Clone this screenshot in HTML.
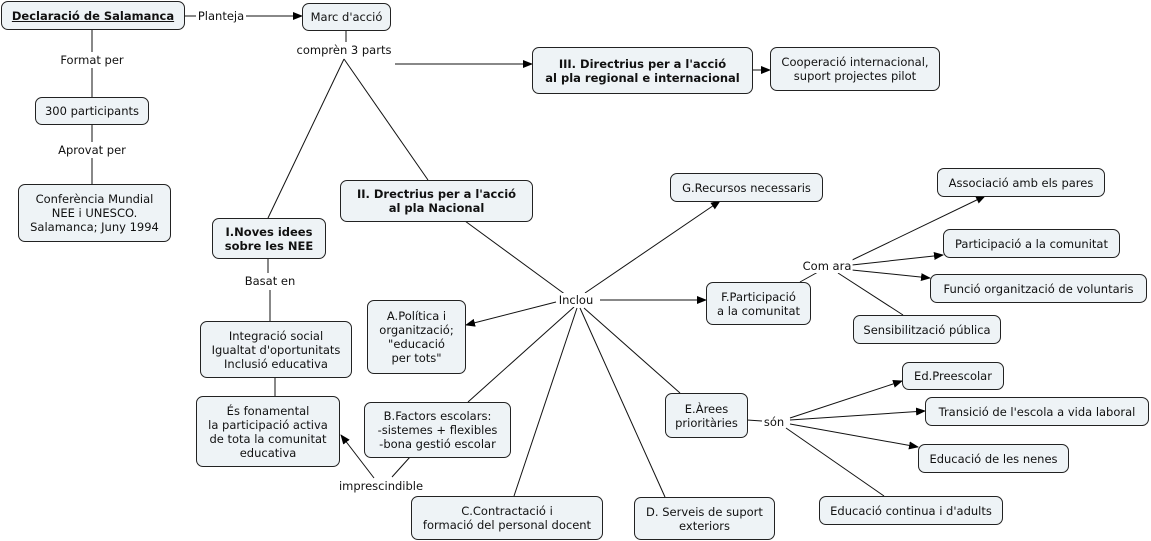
<!DOCTYPE html>
<html><head><meta charset="utf-8"><style>
body{margin:0;width:1151px;height:541px;background:#fff;position:relative;overflow:hidden;font-family:"DejaVu Sans","Liberation Sans",sans-serif;font-size:11.5px;color:#111}
.n{position:absolute;box-sizing:border-box;border:1px solid #222;border-radius:7px;background:#eef3f6;display:flex;align-items:center;justify-content:center;text-align:center;line-height:14px;white-space:nowrap}
.b{font-weight:bold}
.l{position:absolute;background:#fff;white-space:nowrap;line-height:14px;transform:translate(-50%,-50%);padding:0 1px}
svg{position:absolute;left:0;top:0}
</style></head><body>
<svg width="1151" height="541">
<defs><marker id="a" markerWidth="10" markerHeight="8" refX="9" refY="4" orient="auto" markerUnits="userSpaceOnUse"><path d="M0,0 L10,4 L0,8z" fill="#000"/></marker></defs>
<g stroke="#111" stroke-width="1" fill="none">
<line x1="184" y1="16" x2="196" y2="16"/>
<line x1="246" y1="16" x2="302" y2="16" marker-end="url(#a)"/>
<line x1="92" y1="30" x2="92" y2="52"/><line x1="92" y1="68" x2="92" y2="97"/>
<line x1="92" y1="124" x2="92" y2="142"/><line x1="92" y1="158" x2="92" y2="184"/>
<line x1="346" y1="30" x2="346" y2="42"/>
<line x1="344" y1="59" x2="268" y2="218"/>
<line x1="344" y1="59" x2="428" y2="180"/>
<line x1="395" y1="64" x2="532" y2="64" marker-end="url(#a)"/>
<line x1="752" y1="70" x2="770" y2="70" marker-end="url(#a)"/>
<line x1="465" y1="221" x2="566" y2="295"/>
<line x1="585" y1="293" x2="720" y2="201" marker-end="url(#a)"/>
<line x1="600" y1="300" x2="706" y2="300" marker-end="url(#a)"/>
<line x1="556" y1="302" x2="466" y2="325" marker-end="url(#a)"/>
<line x1="574" y1="307" x2="468" y2="402"/>
<line x1="577" y1="308" x2="514" y2="496"/>
<line x1="580" y1="308" x2="665" y2="497"/>
<line x1="584" y1="308" x2="680" y2="393"/>
<line x1="800" y1="282" x2="818" y2="272"/>
<line x1="848" y1="262" x2="985" y2="196" marker-end="url(#a)"/>
<line x1="852" y1="265" x2="943" y2="255" marker-end="url(#a)"/>
<line x1="852" y1="270" x2="930" y2="278" marker-end="url(#a)"/>
<line x1="838" y1="273" x2="903" y2="315"/>
<line x1="747" y1="420" x2="762" y2="421"/>
<line x1="790" y1="418" x2="902" y2="381" marker-end="url(#a)"/>
<line x1="790" y1="420" x2="925" y2="411" marker-end="url(#a)"/>
<line x1="790" y1="424" x2="918" y2="447" marker-end="url(#a)"/>
<line x1="786" y1="428" x2="884" y2="496"/>
<line x1="268" y1="258" x2="268" y2="273"/><line x1="270" y1="290" x2="270" y2="321"/>
<line x1="275" y1="377" x2="275" y2="396"/>
<line x1="410" y1="457" x2="392" y2="477"/>
<line x1="374" y1="478" x2="341" y2="435" marker-end="url(#a)"/>
</g></svg>
<div class="l" style="left:221px;top:16px">Planteja</div>
<div class="l" style="left:92px;top:60px">Format per</div>
<div class="l" style="left:92px;top:150px">Aprovat per</div>
<div class="l" style="left:344px;top:50px">comprèn 3 parts</div>
<div class="l" style="left:270px;top:281px">Basat en</div>
<div class="l" style="left:576px;top:300px">Inclou</div>
<div class="l" style="left:827px;top:266px">Com ara</div>
<div class="l" style="left:774px;top:422px">són</div>
<div class="l" style="left:381px;top:486px">imprescindible</div>

<div class="n b" style="left:1px;top:1px;width:184px;height:29px;text-decoration:underline">Declaració de Salamanca</div>
<div class="n" style="left:302px;top:3px;width:89px;height:28px">Marc d'acció</div>
<div class="n" style="left:35px;top:97px;width:114px;height:28px">300 participants</div>
<div class="n" style="left:18px;top:184px;width:153px;height:58px">Conferència Mundial<br>NEE i UNESCO.<br>Salamanca; Juny 1994</div>
<div class="n b" style="left:532px;top:47px;width:221px;height:47px">III. Directrius per a l'acció<br>al pla regional e internacional</div>
<div class="n" style="left:770px;top:47px;width:170px;height:44px">Cooperació internacional,<br>suport projectes pilot</div>
<div class="n b" style="left:340px;top:180px;width:193px;height:42px">II. Drectrius per a l'acció<br>al pla Nacional</div>
<div class="n b" style="left:212px;top:218px;width:114px;height:41px">I.Noves idees<br>sobre les NEE</div>
<div class="n" style="left:670px;top:173px;width:153px;height:29px">G.Recursos necessaris</div>
<div class="n" style="left:937px;top:168px;width:168px;height:29px">Associació amb els pares</div>
<div class="n" style="left:943px;top:229px;width:177px;height:29px">Participació a la comunitat</div>
<div class="n" style="left:930px;top:274px;width:217px;height:29px">Funció organització de voluntaris</div>
<div class="n" style="left:853px;top:315px;width:148px;height:29px">Sensibilització pública</div>
<div class="n" style="left:706px;top:282px;width:105px;height:43px">F.Participació<br>a la comunitat</div>
<div class="n" style="left:367px;top:300px;width:99px;height:74px">A.Política i<br>organització;<br>"educació<br>per tots"</div>
<div class="n" style="left:200px;top:321px;width:152px;height:57px">Integració social<br>Igualtat d'oportunitats<br>Inclusió educativa</div>
<div class="n" style="left:196px;top:396px;width:144px;height:71px">És fonamental<br>la participació activa<br>de tota la comunitat<br>educativa</div>
<div class="n" style="left:364px;top:402px;width:147px;height:56px">B.Factors escolars:<br>-sistemes + flexibles<br>-bona gestió escolar</div>
<div class="n" style="left:665px;top:393px;width:83px;height:45px">E.Àrees<br>prioritàries</div>
<div class="n" style="left:902px;top:362px;width:102px;height:28px">Ed.Preescolar</div>
<div class="n" style="left:925px;top:397px;width:224px;height:29px">Transició de l'escola a vida laboral</div>
<div class="n" style="left:918px;top:444px;width:151px;height:29px">Educació de les nenes</div>
<div class="n" style="left:819px;top:496px;width:184px;height:29px">Educació continua i d'adults</div>
<div class="n" style="left:411px;top:496px;width:192px;height:44px">C.Contractació i<br>formació del personal docent</div>
<div class="n" style="left:634px;top:497px;width:141px;height:43px">D. Serveis de suport<br>exteriors</div>
</body></html>
